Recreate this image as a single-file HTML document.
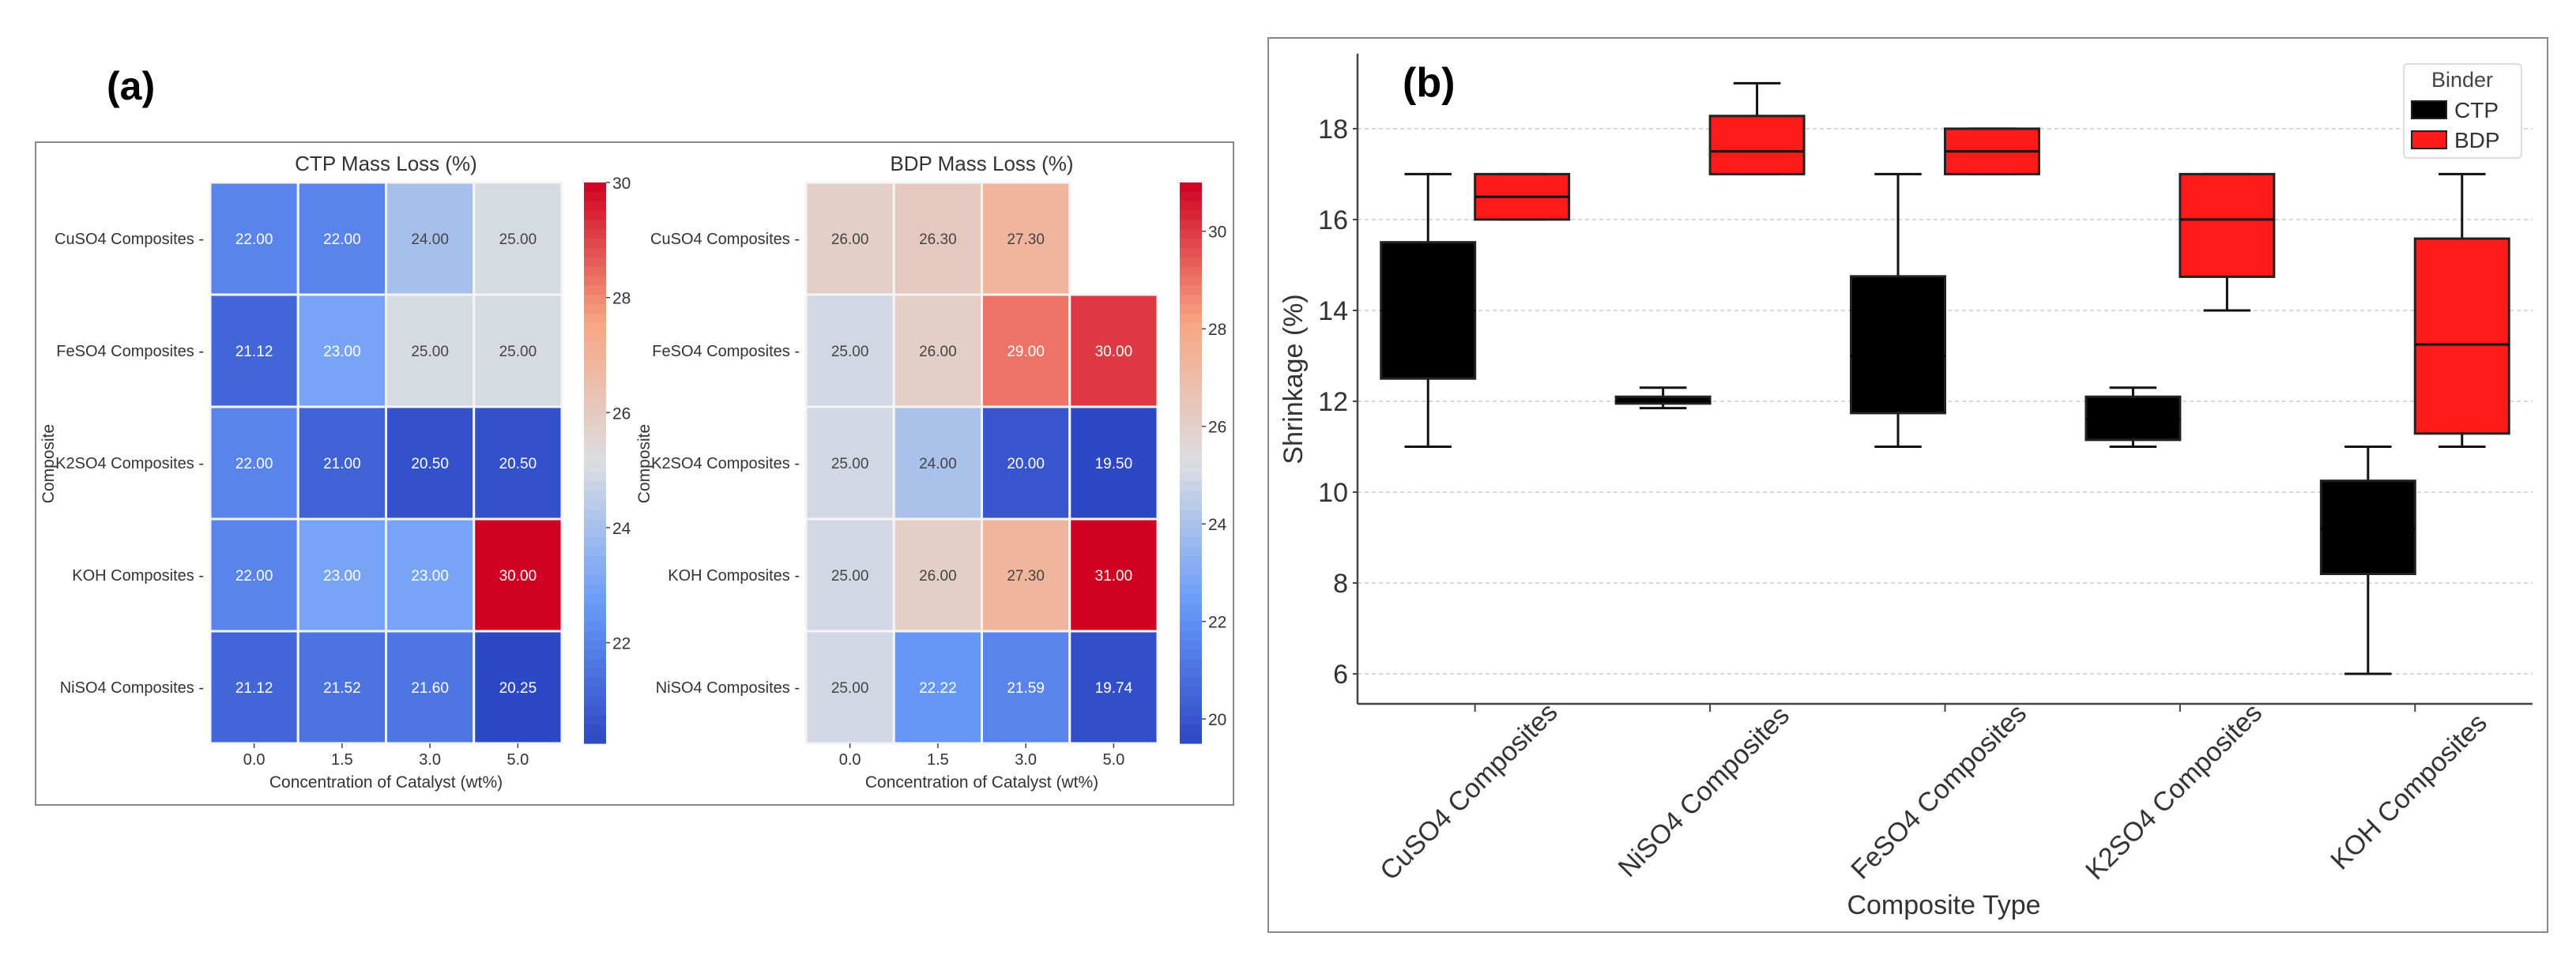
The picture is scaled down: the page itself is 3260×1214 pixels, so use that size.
<!DOCTYPE html>
<html><head><meta charset="utf-8"><style>
html,body{margin:0;padding:0;background:#fff;width:3260px;height:1214px;overflow:hidden}
svg{display:block;font-family:"Liberation Sans","DejaVu Sans",sans-serif}
</style></head><body>
<svg id="fig" width="3260" height="1214" viewBox="0 0 3260 1214"></svg>
<script>
const rows = ["CuSO4 Composites","FeSO4 Composites","K2SO4 Composites","KOH Composites","NiSO4 Composites"];
const cols = ["0.0","1.5","3.0","5.0"];
const ctpVals = [[22.00,22.00,24.00,25.00],[21.12,23.00,25.00,25.00],[22.00,21.00,20.50,20.50],[22.00,23.00,23.00,30.00],[21.12,21.52,21.60,20.25]];
const bdpVals = [[26.00,26.30,27.30,null],[25.00,26.00,29.00,30.00],[25.00,24.00,20.00,19.50],[25.00,26.00,27.30,31.00],[25.00,22.22,21.59,19.74]];
const ctpTicks = [22,24,26,28,30];
const bdpTicks = [20,22,24,26,28,30];
const boxCats = ["CuSO4 Composites","NiSO4 Composites","FeSO4 Composites","K2SO4 Composites","KOH Composites"];
// [low whisker, Q1, median, Q3, high whisker]
const ctpBoxes = [[11,12.5,14,15.5,17],[11.85,11.95,12,12.1,12.3],[11,11.74,13,14.75,17],[11,11.15,11.6,12.1,12.3],[6,8.2,9.2,10.25,11]];
const bdpBoxes = [[16,16,16.5,17,17],[17,17,17.5,18.28,19],[17,17,17.5,18,18],[14,14.74,16,17,17],[11,11.29,13.25,15.58,17]];
const yTicksB = [6,8,10,12,14,16,18];

const NS="http://www.w3.org/2000/svg";
const svg=document.getElementById('fig');
function mk(tag,attrs,parent,text){const e=document.createElementNS(NS,tag);for(const k in attrs)e.setAttribute(k,attrs[k]);if(text!==undefined)e.textContent=text;(parent||svg).appendChild(e);return e;}
const stops=[[0,[45,72,196]],[0.25,[105,155,250]],[0.5,[220,222,225]],[0.75,[248,165,130]],[1,[208,0,34]]];
function cmap(t){t=Math.max(0,Math.min(1,t));for(let i=1;i<stops.length;i++){if(t<=stops[i][0]){const a=stops[i-1],b=stops[i];const f=(t-a[0])/(b[0]-a[0]);const c=a[1].map((v,j)=>Math.round(v+(b[1][j]-v)*f));return c;}}return stops[4][1];}

let e=mk('rect',{x:45,y:180,width:1516,height:839,fill:'none',stroke:'#888','stroke-width':2});

e=mk('text',{x:135,y:126,'font-size':50,'font-weight':'bold',fill:'#000'},svg,'(a)');


function heatmap(name,title,vals,vmin,vmax,ticks,x0,x1,cbx,ylabX){
  const y0=231,y1=941;const cw=(x1-x0)/cols.length,ch=(y1-y0)/rows.length;
  const g=mk('g',{});
  let t=mk('text',{x:(x0+x1)/2,y:216,'font-size':26,'text-anchor':'middle',fill:'#333'},g,title);
  
  rows.forEach((r,i)=>{cols.forEach((c,j)=>{const v=vals[i][j];if(v===null)return;
    const col=cmap((v-vmin)/(vmax-vmin));
    const cell=mk('rect',{x:x0+j*cw,y:y0+i*ch,width:cw,height:ch,fill:`rgb(${col})`,stroke:'#f4f4f4','stroke-width':3},g);
    
    const lum=0.299*col[0]+0.587*col[1]+0.114*col[2];
    const tx=mk('text',{x:x0+(j+0.5)*cw,y:y0+(i+0.5)*ch+7,'font-size':19,'text-anchor':'middle',fill:lum>170?'#444':'#fff'},g,v.toFixed(2));
    });
    const yl=mk('text',{x:x0-8,y:y0+(i+0.5)*ch+7,'font-size':20,'text-anchor':'end',fill:'#333'},g,r+' -');
    });
  cols.forEach((c,j)=>{const xl=mk('text',{x:x0+(j+0.5)*cw,y:968,'font-size':20,'text-anchor':'middle',fill:'#333'},g,c);
    
    mk('line',{x1:x0+(j+0.5)*cw,x2:x0+(j+0.5)*cw,y1:y1,y2:y1+6,stroke:'#444','stroke-width':1.5},g);});
  t=mk('text',{x:(x0+x1)/2,y:997,'font-size':21,'text-anchor':'middle',fill:'#333'},g,'Concentration of Catalyst (wt%)');
  
  t=mk('text',{x:0,y:0,'font-size':21,'text-anchor':'middle',fill:'#333',transform:`translate(${ylabX},587) rotate(-90)`},g,'Composite');
  
  const n=60,h=(y1-y0)/n;
  for(let k=0;k<n;k++){const col=cmap(1-(k+0.5)/n);mk('rect',{x:cbx,y:y0+k*h,width:28,height:h+0.6,fill:`rgb(${col})`},g);}
  const cb=mk('rect',{x:cbx,y:y0,width:28,height:y1-y0,fill:'none'},g);
  
  ticks.forEach(v=>{const y=y1-(v-vmin)/(vmax-vmin)*(y1-y0);
    mk('line',{x1:cbx+28,x2:cbx+33,y1:y,y2:y,stroke:'#444','stroke-width':1.5},g);
    const tl=mk('text',{x:cbx+36,y:y+8,'font-size':21,fill:'#333'},g,String(v));
    });
}
heatmap('ctp','CTP Mass Loss (%)',ctpVals,20.25,30,ctpTicks,266,711,739,68);
heatmap('bdp','BDP Mass Loss (%)',bdpVals,19.5,31,bdpTicks,1020,1465,1493,822);

e=mk('rect',{x:1605,y:48,width:1619,height:1132,fill:'none',stroke:'#888','stroke-width':2});

const AX={l:1718,r:3205,t:68,b:891};
const ymin=5.34,ymax=19.65;
function Y(v){return AX.b-(v-ymin)/(ymax-ymin)*(AX.b-AX.t);}
function X(i){return AX.l+(i+0.5)/boxCats.length*(AX.r-AX.l);}
const spacing=(AX.r-AX.l)/boxCats.length,bw=spacing*0.4;
yTicksB.forEach(v=>{const y=Y(v);
  const gl=mk('line',{x1:AX.l,x2:AX.r,y1:y,y2:y,stroke:'#ccc','stroke-width':1.5,'stroke-dasharray':'5,4'});
  
  mk('line',{x1:AX.l-6,x2:AX.l,y1:y,y2:y,stroke:'#444','stroke-width':2});
  const tl=mk('text',{x:AX.l-12,y:y+12,'font-size':34,'text-anchor':'end',fill:'#333'},svg,String(v));
  });
function drawBox(b,xl,fill,med,name){
  const g=mk('g',{});
  const xc=xl+bw/2;
  mk('line',{x1:xc,x2:xc,y1:Y(b[4]),y2:Y(b[3]),stroke:'#111','stroke-width':3},g);
  mk('line',{x1:xc,x2:xc,y1:Y(b[1]),y2:Y(b[0]),stroke:'#111','stroke-width':3},g);
  mk('line',{x1:xc-bw/4,x2:xc+bw/4,y1:Y(b[4]),y2:Y(b[4]),stroke:'#111','stroke-width':3},g);
  mk('line',{x1:xc-bw/4,x2:xc+bw/4,y1:Y(b[0]),y2:Y(b[0]),stroke:'#111','stroke-width':3},g);
  mk('rect',{x:xl,y:Y(b[3]),width:bw,height:Math.max(1,Y(b[1])-Y(b[3])),fill:fill,stroke:'#222','stroke-width':3},g);
  mk('line',{x1:xl,x2:xl+bw,y1:Y(b[2]),y2:Y(b[2]),stroke:med,'stroke-width':3},g);
}
boxCats.forEach((c,i)=>{
  drawBox(ctpBoxes[i],X(i)-bw,'#000','#000','ctp-box');
  drawBox(bdpBoxes[i],X(i),'#ff1a1a','#111','bdp-box');
  mk('line',{x1:X(i),x2:X(i),y1:AX.b,y2:AX.b+10,stroke:'#444','stroke-width':2});
  const tl=mk('text',{x:0,y:0,'font-size':34,'text-anchor':'middle',fill:'#333',transform:`translate(${X(i)},${1010}) rotate(-45)`},svg,c);
  
});
mk('line',{x1:AX.l,x2:AX.l,y1:AX.t,y2:AX.b,stroke:'#444','stroke-width':2.5});
mk('line',{x1:AX.l,x2:AX.r,y1:AX.b,y2:AX.b,stroke:'#444','stroke-width':2.5});
e=mk('text',{x:2460,y:1157,'font-size':34,'text-anchor':'middle',fill:'#333'},svg,'Composite Type');

e=mk('text',{x:0,y:0,'font-size':34,'text-anchor':'middle',fill:'#333',transform:'translate(1648,480) rotate(-90)'},svg,'Shrinkage (%)');

e=mk('text',{x:1775,y:122,'font-size':52,'font-weight':'bold',fill:'#000'},svg,'(b)');

const lg=mk('g',{});
mk('rect',{x:3042,y:81,width:149,height:119,rx:5,fill:'#fff',stroke:'#ddd','stroke-width':2},lg);
mk('text',{x:3116,y:110,'font-size':27,'text-anchor':'middle',fill:'#444'},lg,'Binder');
let le=mk('g',{},lg);
mk('rect',{x:3052,y:128,width:44,height:22,fill:'#000',stroke:'#222','stroke-width':2},le);
mk('text',{x:3106,y:149,'font-size':28,fill:'#333'},le,'CTP');
le=mk('g',{},lg);
mk('rect',{x:3052,y:166,width:44,height:22,fill:'#ff1a1a',stroke:'#222','stroke-width':2},le);
mk('text',{x:3106,y:187,'font-size':28,fill:'#333'},le,'BDP');
</script>
</body></html>
